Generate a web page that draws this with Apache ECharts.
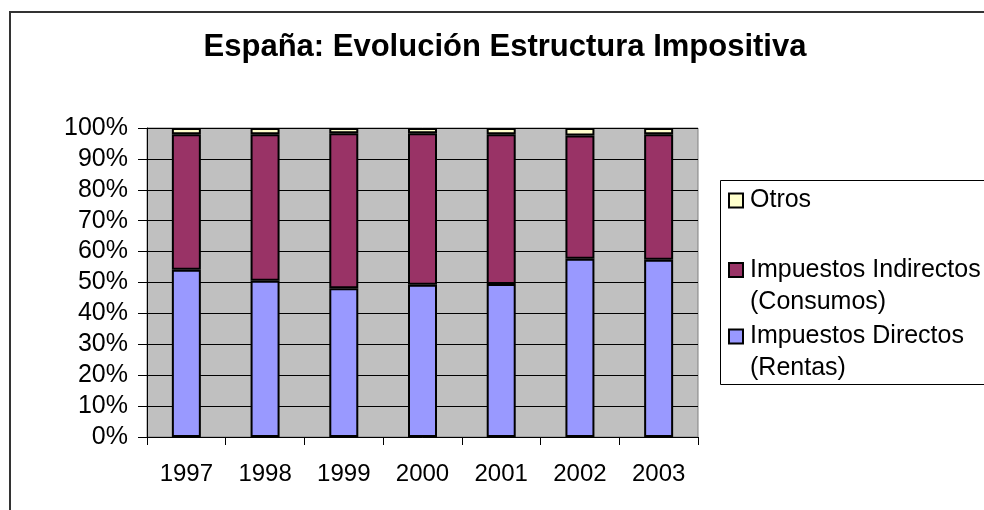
<!DOCTYPE html>
<html>
<head>
<meta charset="utf-8">
<script src="https://cdn.jsdelivr.net/npm/echarts@6/dist/echarts.min.js"></script>
<style>
  html, body { margin: 0; padding: 0; background: #fff; }
  #chart { width: 984px; height: 510px; }
</style>
</head>
<body>
<div id="chart"></div>
<script>
// datos (% del total)
const years = ["1997", "1998", "1999", "2000", "2001", "2002", "2003"];
const directos = [54.1, 50.6, 48.1, 49.3, 49.5, 57.7, 57.4];
const indirectos = [43.9, 47.4, 50.2, 49.0, 48.5, 39.9, 40.6];
const otros = [2.0, 2.0, 1.7, 1.7, 2.0, 2.4, 2.0];

const names = ["Impuestos Directos\n(Rentas)", "Impuestos Indirectos\n(Consumos)", "Otros"];
const colors = ["#9999FF", "#993366", "#FFFFCC"];

const font = "'Liberation Sans', Arial, sans-serif";

const chart = echarts.init(document.getElementById("chart"));

function barSeries(name, data, color) {
  return {
    name: name,
    type: "bar",
    stack: "total",
    barWidth: 29,
    data: data,
    itemStyle: { color: color, borderColor: "#000", borderWidth: 2 },
  };
}

// leyenda dibujada a mano (icono alineado con la primera linea)
const legendItems = [
  { idx: 2, y: 200.5, lines: ["Otros"] },
  { idx: 1, y: 270, lines: ["Impuestos Indirectos", "(Consumos)"] },
  { idx: 0, y: 336.5, lines: ["Impuestos Directos", "(Rentas)"] },
];
const legendGraphics = [];
legendItems.forEach((it) => {
  legendGraphics.push({
    type: "rect",
    shape: { x: 729, y: it.y - 7, width: 14, height: 14 },
    style: { fill: colors[it.idx], stroke: "#000", lineWidth: 2 },
  });
  it.lines.forEach((line, i) => {
    legendGraphics.push({
      type: "text",
      x: 750,
      y: it.y + i * 32,
      style: {
        text: line,
        font: "25px " + font,
        fill: "#000",
        verticalAlign: "middle",
        align: "left",
      },
    });
  });
});

const option = {
  animation: false,
  backgroundColor: "#fff",
  title: {
    text: "España: Evolución Estructura Impositiva",
    left: 505,
    top: 32,
    padding: 0,
    textAlign: "center",
    textStyle: { fontFamily: font, fontSize: 31, fontWeight: "bold", color: "#000" },
  },
  grid: {
    left: 147,
    right: 286,
    top: 128,
    bottom: 73,
    show: true,
    backgroundColor: "#C0C0C0",
    borderColor: "#808080",
    borderWidth: 1,
  },
  xAxis: {
    type: "category",
    data: years,
    axisLine: { lineStyle: { color: "#000", width: 1 } },
    axisTick: { show: true, length: 8, lineStyle: { color: "#000" } },
    axisLabel: { fontFamily: font, fontSize: 24, color: "#000", margin: 25 },
  },
  yAxis: {
    type: "value",
    min: 0,
    max: 100,
    interval: 10,
    axisLine: { show: true, lineStyle: { color: "#000", width: 1 } },
    axisTick: { show: true, length: 9, lineStyle: { color: "#000" } },
    axisLabel: { fontFamily: font, fontSize: 25, color: "#000", margin: 19, formatter: "{value}%" },
    splitLine: { lineStyle: { color: "#000", width: 1 } },
  },
  series: [
    barSeries(names[0], directos, colors[0]),
    barSeries(names[1], indirectos, colors[1]),
    barSeries(names[2], otros, colors[2]),
  ],
  graphic: [
    {
      type: "rect",
      z: -1,
      shape: { x: 10, y: 12, width: 1000, height: 520 },
      style: { fill: null, stroke: "#333", lineWidth: 2 },
    },
    {
      type: "rect",
      shape: { x: 720.5, y: 180.5, width: 300, height: 204 },
      style: { fill: null, stroke: "#000", lineWidth: 1 },
    },
  ].concat(legendGraphics),
};

chart.setOption(option);
</script>
</body>
</html>
